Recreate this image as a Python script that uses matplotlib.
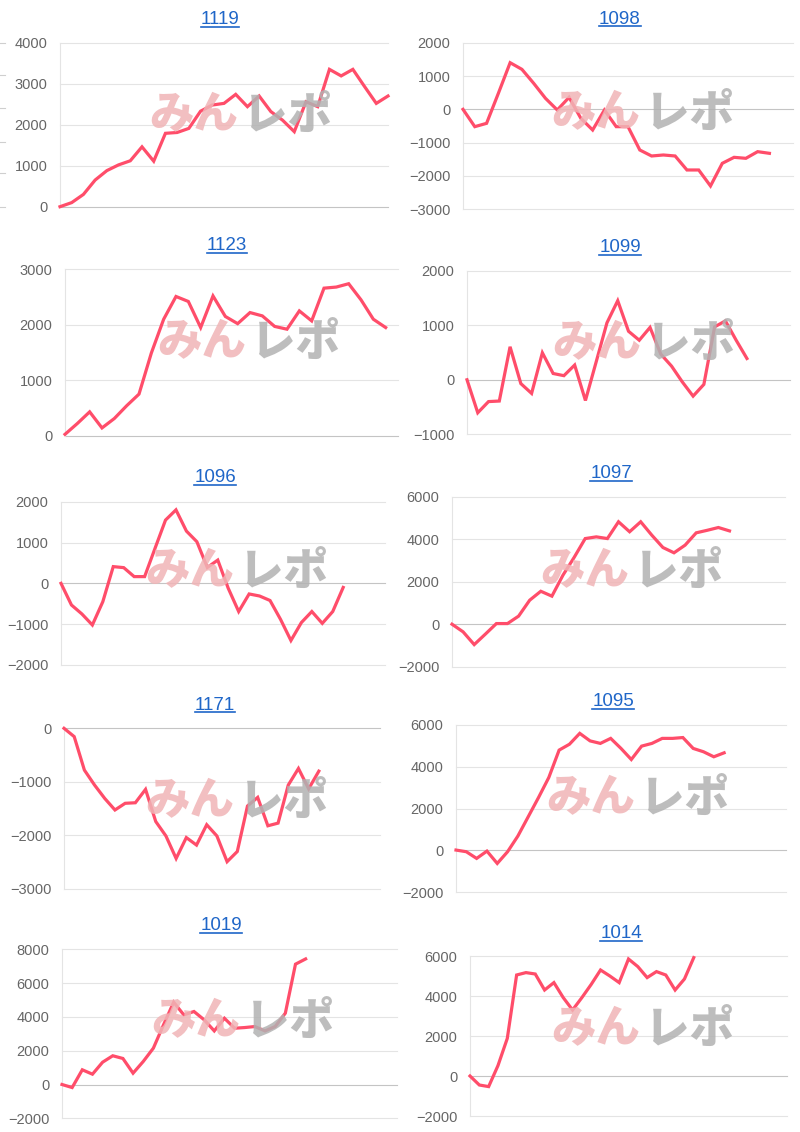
import matplotlib
matplotlib.use('Agg')
import matplotlib.pyplot as plt
from matplotlib.lines import Line2D

W, H = 800, 1132

titles = ['1119', '1098', '1123', '1099', '1096', '1097', '1171', '1095', '1019', '1014']

v1119 = [0, 100, 300, 650, 880, 1020, 1120, 1460, 1110, 1790, 1810, 1910, 2330, 2480, 2520,
         2740, 2440, 2700, 2320, 2110, 1830, 2560, 2440, 3350, 3190, 3350, 2930, 2520, 2700]
v1098 = [0, -520, -420, 480, 1400, 1200, 780, 330, -20, 360, -270, -620, -20, -520, -520,
         -1220, -1400, -1370, -1400, -1820, -1820, -2300, -1620, -1440, -1470, -1270, -1320]
v1123 = [25, 220, 430, 140, 310, 540, 750, 1490, 2100, 2510, 2420, 1950, 2520, 2150, 2020,
         2220, 2160, 1970, 1920, 2250, 2070, 2660, 2680, 2740, 2450, 2100, 1950]
v1099 = [0, -605, -400, -390, 605, -70, -250, 495, 115, 75, 270, -380, 330, 1045, 1450,
         890, 725, 960, 470, 250, -40, -300, -85, 970, 1080, 725, 390]
v1096 = [0, -530, -750, -1020, -450, 410, 385, 165, 165, 860, 1550, 1800, 1280, 1020, 390,
         570, -120, -690, -260, -310, -420, -880, -1400, -960, -690, -980, -690, -100]
v1097 = [0, -360, -960, -470, 30, 30, 380, 1130, 1550, 1320, 2310, 3140, 4030, 4110, 4030,
         4820, 4350, 4820, 4190, 3610, 3360, 3720, 4300, 4420, 4550, 4390]
v1171 = [0, -155, -780, -1060, -1310, -1525, -1400, -1390, -1140, -1740, -2010, -2430, -2040,
         -2180, -1800, -2010, -2490, -2300, -1450, -1290, -1820, -1770, -1060, -750, -1130, -800]
v1095 = [20, -60, -380, -30, -620, -60, 690, 1610, 2530, 3490, 4800, 5080, 5600, 5240, 5120,
         5360, 4880, 4350, 4990, 5120, 5360, 5360, 5400, 4880, 4720, 4480, 4670]
v1019 = [0, -180, 870, 610, 1320, 1700, 1540, 670, 1360, 2150, 3530, 4870, 4120, 4320, 3830,
         3170, 3920, 3330, 3370, 3430, 3170, 3430, 4220, 7120, 7430]
v1014 = [0, -450, -530, 520, 1880, 5050, 5170, 5100, 4300, 4670, 3920, 3300, 3920, 4580, 5300,
         5000, 4670, 5850, 5470, 4920, 5220, 5050, 4300, 4850, 5920]

series = [v1119, v1098, v1123, v1099, v1096, v1097, v1171, v1095, v1019, v1014]

# number of x slots on each chart
slots = [28, 28, 27, 30, 31, 30, 31, 32, 33, 34]

# y axis (min, max, step)
yaxes = [(0, 4000, 1000), (-3000, 2000, 1000), (0, 3000, 1000), (-1000, 2000, 1000),
         (-2000, 2000, 1000), (-2000, 6000, 2000), (-3000, 0, 1000), (-2000, 6000, 2000),
         (-2000, 8000, 2000), (-2000, 6000, 2000)]

# plot boxes in pixels: left, top, right, bottom ; title centre x, y ; watermark centre x, y
boxes = [(60, 42.7, 388, 206.7), (463, 42.7, 793, 209.3),
         (65, 269.3, 398, 435.7), (467, 270.7, 790, 434.3),
         (61, 501.7, 385, 665), (452, 496.7, 785, 666.7),
         (64, 728.3, 380, 889), (456, 725, 786, 892.3),
         (62, 949.3, 397, 1118.3), (470, 956, 787, 1116)]
title_pos = [(220, 20), (620, 19), (227, 246), (620, 248), (215, 478),
             (611, 474), (215, 705), (613, 702), (221, 926), (621, 934)]
mark_pos = [(240, 115), (642, 113), (248, 342), (643, 343), (236, 571),
            (631, 571), (236, 801), (637, 798), (242, 1021), (642, 1029)]

LINE = '#ff4d6a'
GRID = '#e4e4e4'
TXT = '#666666'
LINK = '#1f66c8'

plt.rcParams['font.family'] = ['Liberation Sans', 'DejaVu Sans']

fig = plt.figure(figsize=(W / 100, H / 100), dpi=100)
fig.patch.set_facecolor('white')

# bits of the neighbouring chart cut off at the left edge
for y in [42.7, 75, 108, 142, 173, 207]:
    fig.add_artist(Line2D([0, 5 / W], [1 - y / H, 1 - y / H], color='#cfcfcf', lw=0.8,
                          transform=fig.transFigure))

title_texts = []
for i in range(10):
    l, t, r, b = boxes[i]
    ax = fig.add_axes([l / W, 1 - b / H, (r - l) / W, (b - t) / H])
    ymin, ymax, step = yaxes[i]
    ticks = list(range(ymin, ymax + 1, step))
    ax.set_ylim(ymin, ymax)
    ax.set_xlim(0, slots[i])
    ax.set_yticks(ticks)
    ax.set_xticks([])
    for y in ticks:
        c = '#c4c4c4' if y == 0 else GRID
        ax.axhline(y, color=c, lw=0.8, zorder=1, clip_on=False)
    for s in ['top', 'right', 'bottom']:
        ax.spines[s].set_visible(False)
    ax.spines['left'].set_color(GRID)
    ax.spines['left'].set_linewidth(0.8)
    ax.tick_params(axis='y', length=0, pad=9, labelsize=10.5, labelcolor=TXT)
    ax.set_facecolor('none')

    ax.plot(range(len(series[i])), series[i], color=LINE, lw=2.3, zorder=5,
            solid_joinstyle='miter', clip_on=False)

    # watermark
    mx, my = mark_pos[i]
    fig.text((mx - 2) / W, 1 - my / H, 'みん', ha='right', va='center', fontsize=32,
             fontweight='black', color='#f0b4b6', alpha=0.85,
             family=['Noto Sans CJK JP', 'DejaVu Sans'], zorder=0)
    fig.text((mx + 3) / W, 1 - my / H, 'レポ', ha='left', va='center', fontsize=32,
             fontweight='black', color='#b2b2b2', alpha=0.85,
             family=['Noto Sans CJK JP', 'DejaVu Sans'], zorder=0)

    tx, ty = title_pos[i]
    title_texts.append(fig.text(tx / W, 1 - ty / H, titles[i], ha='center', va='center',
                                fontsize=13.5, color=LINK))

# underline the titles like links
fig.canvas.draw()
renderer = fig.canvas.get_renderer()
for tt in title_texts:
    bb = tt.get_window_extent(renderer)
    y = bb.y0 + 1.5
    fig.add_artist(Line2D([bb.x0 / W, bb.x1 / W], [y / H, y / H], color=LINK, lw=1.2,
                          transform=fig.transFigure))

fig.savefig('out.png', dpi=100, facecolor='white')
